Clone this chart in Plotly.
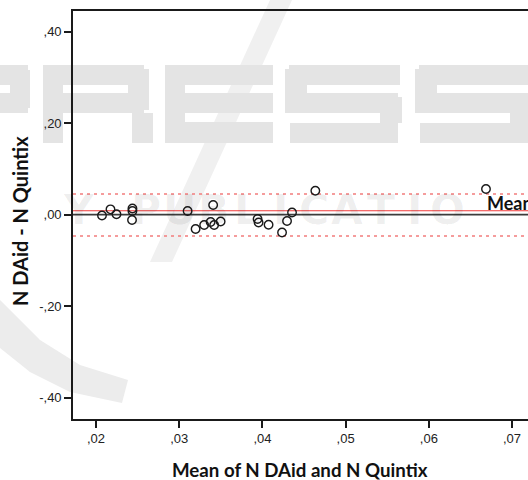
import plotly.graph_objects as go

# ---- data ----
mean_of_methods = [0.02072, 0.02174, 0.02246, 0.02438, 0.02438, 0.02433,
                   0.03101, 0.03197, 0.03300, 0.03378, 0.03408, 0.03420, 0.03498,
                   0.03942, 0.03954, 0.04074, 0.04236, 0.04296, 0.04356,
                   0.04636, 0.06687]
diff_of_methods = [-0.0022, 0.0114, 0.0007, 0.0131, 0.0077, -0.0120,
                   0.0077, -0.0317, -0.0230, -0.0164, 0.0208, -0.0230, -0.0153,
                   -0.0098, -0.0175, -0.0223, -0.0393, -0.0142, 0.0044,
                   0.0520, 0.0557]
zero_line = 0.0
mean_diff = 0.0083
upper_loa = 0.0448
lower_loa = -0.0470

x_tickvals = [0.02, 0.03, 0.04, 0.05, 0.06, 0.07]
x_ticktext = [",02", ",03", ",04", ",05", ",06", ",07"]
y_tickvals = [0.40, 0.20, 0.00, -0.20, -0.40]
y_ticktext = [",40", ",20", ",00", "-,20", "-,40"]

x_title = "Mean of N DAid and N Quintix"
y_title = "N DAid - N Quintix"
mean_label = "Mean"
watermark_line2 = "OGY PUBLICATIONS"

# ---- layout geometry helpers (pixels -> paper) ----
W, H = 528, 480
L, R, T, B = 73, 0, 11, 61
PW, PH = W - L - R, H - T - B


def px_x(px):
    return (px - L) / PW


def px_y(py):
    return (H - B - py) / PH


fig = go.Figure()

fig.add_trace(go.Scatter(
    x=mean_of_methods, y=diff_of_methods, mode="markers",
    marker=dict(symbol="circle-open", size=8.5, color="#1a1a1a",
                line=dict(width=1.4, color="#1a1a1a")),
    showlegend=False, hoverinfo="x+y"))

WM = "#e4e4e4"
shapes = []


def wm_rect(x0, x1, y0, y1):
    shapes.append(dict(type="rect", xref="paper", yref="paper",
                       x0=px_x(x0), x1=px_x(x1), y0=px_y(y1), y1=px_y(y0),
                       fillcolor=WM, line=dict(width=0), layer="below"))


def wm_path(pts, color=WM):
    d = "M " + " L ".join(f"{px_x(a):.4f},{px_y(b):.4f}" for a, b in pts) + " Z"
    shapes.append(dict(type="path", xref="paper", yref="paper", path=d,
                       fillcolor=color, line=dict(width=0), layer="below"))


# faint publisher watermark "PRESS" (block letters)
wm_path([(270, 0), (292, 0), (172, 262), (150, 262)], "#f0f0f0")
wm_path([(0, 300), (40, 340), (80, 365), (128, 380), (122, 403), (70, 392), (30, 372), (0, 348)], "#ececec")
# P (mostly off-canvas)
wm_rect(-60, 28, 65, 85); wm_rect(10, 30, 70, 108); wm_rect(-60, 28, 93, 113)
# R
wm_rect(43, 63, 65, 143); wm_rect(43, 144, 65, 85); wm_rect(128, 149, 69, 110)
wm_rect(43, 144, 93, 113); wm_rect(132, 153, 113, 143)
# E
wm_rect(165, 185, 65, 143); wm_rect(165, 273, 65, 85); wm_rect(185, 273, 93, 113)
wm_rect(165, 273, 122, 143)
# S
wm_rect(289, 400, 65, 85); wm_rect(285, 307, 69, 93); wm_rect(285, 398, 93, 113)
wm_rect(380, 402, 97, 123); wm_rect(290, 398, 123, 143)
# S
wm_rect(419, 535, 65, 85); wm_rect(415, 437, 69, 93); wm_rect(415, 528, 93, 113)
wm_rect(510, 535, 97, 123); wm_rect(420, 528, 123, 143)

shapes += [
    dict(type="line", xref="paper", yref="y", x0=0, x1=1, y0=zero_line, y1=zero_line,
         line=dict(color="#3c3c3c", width=1.8), layer="below"),
    dict(type="line", xref="paper", yref="y", x0=0, x1=1, y0=mean_diff, y1=mean_diff,
         line=dict(color="#f03a3a", width=1.2), layer="below"),
    dict(type="line", xref="paper", yref="y", x0=0, x1=1, y0=upper_loa, y1=upper_loa,
         line=dict(color="#f27c7c", width=1.6, dash="3px,4px"), layer="below"),
    dict(type="line", xref="paper", yref="y", x0=0, x1=1, y0=lower_loa, y1=lower_loa,
         line=dict(color="#f27c7c", width=1.6, dash="3px,4px"), layer="below"),
]

annotations = []
# second (fainter) watermark line, letter by letter; letters hidden behind
# the ",00" tick label and the "Mean" label are left out
for i, ch in enumerate(watermark_line2):
    cx = 12 + 33.5 * i
    if ch == " " or cx < 70 or cx > 470:
        continue
    annotations.append(dict(
        text=f"<b>{ch}</b>", xref="paper", yref="paper",
        x=px_x(cx), y=px_y(210), xanchor="center", yanchor="middle",
        showarrow=False,
        font=dict(family="DejaVu Sans", size=41, color="rgba(0,0,0,0.065)")))

annotations += [
    dict(text=f"<b>{x_title}</b>", xref="paper", yref="paper",
         x=px_x(300), y=px_y(470), xanchor="center", yanchor="middle",
         showarrow=False, font=dict(family="Lato", size=18.7, color="#111111")),
    dict(text=f"<b>{y_title}</b>", xref="paper", yref="paper",
         x=px_x(20), y=px_y(221), xanchor="center", yanchor="middle",
         textangle=-90, showarrow=False,
         font=dict(family="Lato", size=20, color="#111111")),
    dict(text=f"<b>{mean_label}</b>", xref="paper", yref="paper",
         x=px_x(485), y=px_y(203), xanchor="left", yanchor="middle",
         showarrow=False, font=dict(family="Lato", size=18, color="#111111")),
]

fig.update_layout(
    width=W, height=H,
    margin=dict(l=L, r=R, t=T, b=B, pad=0),
    paper_bgcolor="white", plot_bgcolor="rgba(0,0,0,0)",
    shapes=shapes, annotations=annotations,
    xaxis=dict(range=[0.017236, 0.07192], tickvals=x_tickvals, ticktext=x_ticktext,
               showgrid=False, zeroline=False, showline=True, mirror=True,
               linecolor="#1a1a1a", linewidth=1.6,
               ticks="outside", ticklen=7, tickwidth=1.5, tickcolor="#1a1a1a",
               tickfont=dict(family="Liberation Sans", size=13, color="#222222")),
    yaxis=dict(range=[-0.447, 0.445], tickvals=y_tickvals, ticktext=y_ticktext,
               showgrid=False, zeroline=False, showline=True, mirror=False,
               linecolor="#1a1a1a", linewidth=1.6,
               ticks="outside", ticklen=7, tickwidth=1.5, tickcolor="#1a1a1a",
               tickfont=dict(family="Liberation Sans", size=13, color="#222222")),
)

fig.write_html(
    "out.html",
    config={"displayModeBar": False},
    post_script="document.body.style.margin='0';document.body.style.overflow='hidden';",
)
